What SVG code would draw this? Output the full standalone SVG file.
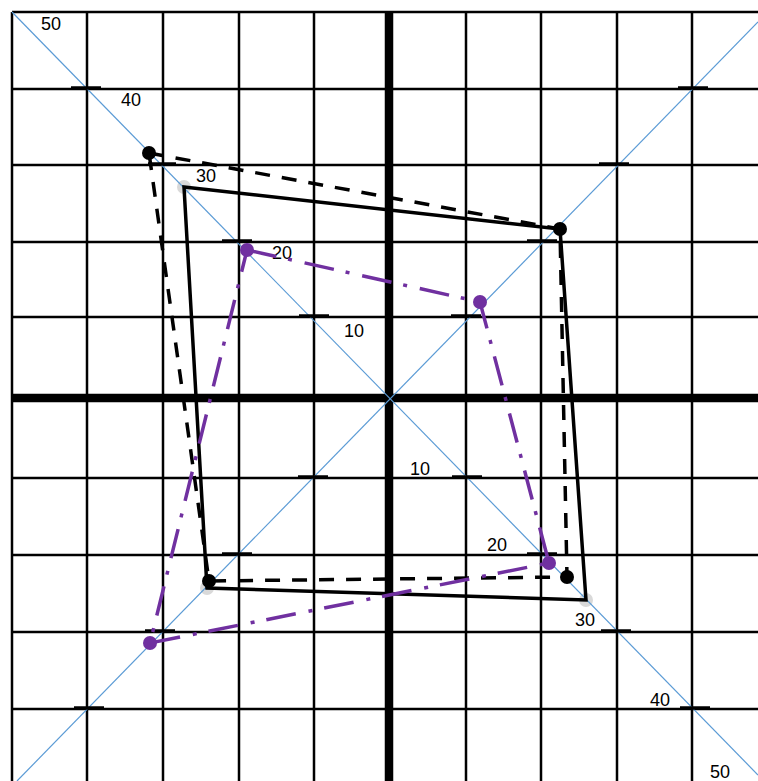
<svg xmlns="http://www.w3.org/2000/svg" width="758" height="781" viewBox="0 0 758 781">
<defs>
<style>
.grid{stroke:#000;stroke-width:2.5;fill:none}
.axis{stroke:#000;stroke-width:8.5;fill:none}
.diag{stroke:#5B9BD5;stroke-width:1.2;fill:none}
.tick{stroke:#000;stroke-width:3.5;fill:none}
.lbl{font-family:"Liberation Sans",Arial,sans-serif;font-size:18px;fill:#000}
.solid{stroke:#000;stroke-width:3.5;fill:none;stroke-linejoin:miter}
.dashed{stroke:#000;stroke-width:3.5;fill:none;stroke-dasharray:15 12}
.dashdot{stroke:#7030A0;stroke-width:3.5;fill:none;stroke-dasharray:30 12 4 13}
.gdot{fill:#D9D9D9}
.bdot{fill:#000}
.pdot{fill:#7030A0}
</style>
</defs>
<rect width="758" height="781" fill="#fff"/>
<g id="gray-points">
<circle class="gdot" cx="184" cy="187" r="7"/>
<circle class="gdot" cx="586" cy="600" r="7"/>
<circle class="gdot" cx="207" cy="588" r="7"/>
</g>
<g id="grid">
<line class="grid" x1="12" y1="12" x2="12" y2="781"/>
<line class="grid" x1="87" y1="12" x2="87" y2="781"/>
<line class="grid" x1="163" y1="12" x2="163" y2="781"/>
<line class="grid" x1="239" y1="12" x2="239" y2="781"/>
<line class="grid" x1="314" y1="12" x2="314" y2="781"/>
<line class="grid" x1="466" y1="12" x2="466" y2="781"/>
<line class="grid" x1="541" y1="12" x2="541" y2="781"/>
<line class="grid" x1="617" y1="12" x2="617" y2="781"/>
<line class="grid" x1="692" y1="12" x2="692" y2="781"/>
<line class="grid" x1="12" y1="12" x2="758" y2="12"/>
<line class="grid" x1="12" y1="89" x2="758" y2="89"/>
<line class="grid" x1="12" y1="165" x2="758" y2="165"/>
<line class="grid" x1="12" y1="242" x2="758" y2="242"/>
<line class="grid" x1="12" y1="317" x2="758" y2="317"/>
<line class="grid" x1="12" y1="478" x2="758" y2="478"/>
<line class="grid" x1="12" y1="555" x2="758" y2="555"/>
<line class="grid" x1="12" y1="632" x2="758" y2="632"/>
<line class="grid" x1="12" y1="709" x2="758" y2="709"/>
<line class="axis" x1="389" y1="12" x2="389" y2="781"/>
<line class="axis" x1="12" y1="398" x2="758" y2="398"/>
</g>
<g id="diagonals">
<line class="diag" x1="12" y1="12" x2="758" y2="775"/>
<line class="diag" x1="17" y1="781" x2="758" y2="22"/>
</g>
<g id="ticks">
<line class="tick" x1="71" y1="88" x2="101" y2="88"/>
<line class="tick" x1="148" y1="164" x2="176" y2="164"/>
<line class="tick" x1="222" y1="241" x2="252" y2="241"/>
<line class="tick" x1="299" y1="316" x2="329" y2="316"/>
<line class="tick" x1="451" y1="316" x2="481" y2="316"/>
<line class="tick" x1="527" y1="241" x2="557" y2="241"/>
<line class="tick" x1="599" y1="164" x2="629" y2="164"/>
<line class="tick" x1="678" y1="88" x2="708" y2="88"/>
<line class="tick" x1="298" y1="477" x2="328" y2="477"/>
<line class="tick" x1="452" y1="477" x2="482" y2="477"/>
<line class="tick" x1="222" y1="554" x2="252" y2="554"/>
<line class="tick" x1="527" y1="554" x2="557" y2="554"/>
<line class="tick" x1="145" y1="631" x2="175" y2="631"/>
<line class="tick" x1="601" y1="631" x2="631" y2="631"/>
<line class="tick" x1="74" y1="708" x2="104" y2="708"/>
<line class="tick" x1="680" y1="708" x2="710" y2="708"/>
</g>
<g id="labels">
<text class="lbl" x="41" y="30">50</text>
<text class="lbl" x="121" y="106">40</text>
<text class="lbl" x="196" y="182">30</text>
<text class="lbl" x="272" y="259">20</text>
<text class="lbl" x="344" y="337">10</text>
<text class="lbl" x="410" y="475">10</text>
<text class="lbl" x="487" y="551">20</text>
<text class="lbl" x="575" y="626">30</text>
<text class="lbl" x="650" y="706">40</text>
<text class="lbl" x="710" y="778">50</text>
</g>
<g id="connectors">
<polygon id="solid-quad" class="solid" points="184,187 560,229 586,600 207,588"/>
<polygon id="dashed-quad" class="dashed" points="149,153 560,229 567,577 209,581"/>
<polygon id="dashdot-quad" class="dashdot" points="247,250 480,302 549,563 150,643"/>
</g>
<g id="black-points">
<circle class="bdot" cx="149" cy="153" r="7"/>
<circle class="bdot" cx="560" cy="229" r="7"/>
<circle class="bdot" cx="567" cy="577" r="7"/>
<circle class="bdot" cx="209" cy="581" r="7"/>
</g>
<g id="purple-points">
<circle class="pdot" cx="247" cy="250" r="7"/>
<circle class="pdot" cx="480" cy="302" r="7"/>
<circle class="pdot" cx="549" cy="563" r="7"/>
<circle class="pdot" cx="150" cy="643" r="7"/>
</g>
</svg>
